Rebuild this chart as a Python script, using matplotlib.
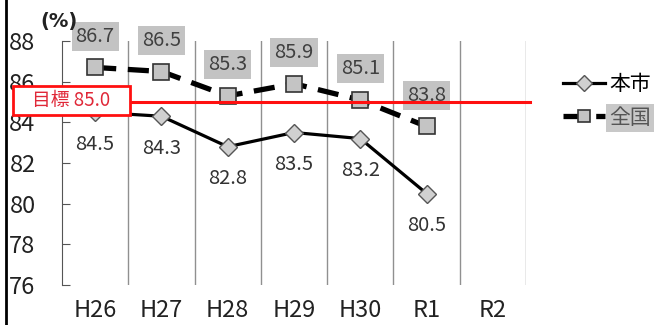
import matplotlib
matplotlib.use("Agg")
import matplotlib.pyplot as plt
from matplotlib.patches import Rectangle
from matplotlib.lines import Line2D

plt.rcParams['font.family'] = ['Noto Sans CJK JP', 'DejaVu Sans']

categories = ["H26", "H27", "H28", "H29", "H30", "R1", "R2"]
city = [84.5, 84.3, 82.8, 83.5, 83.2, 80.5]
national = [86.7, 86.5, 85.3, 85.9, 85.1, 83.8]
target = 85.0
yticks = [76, 78, 80, 82, 84, 86, 88]

fig = plt.figure(figsize=(6.58, 3.25), dpi=100)
ax = fig.add_axes([62/658, 1-285/325, (526-62)/658, (285-41)/325])

x = list(range(len(categories)))
ax.set_xlim(-0.5, len(categories)-0.5)
ax.set_ylim(76, 88)

# national (dashed, squares)
ax.plot(x[:len(national)], national, color='black', lw=3.8, ls=(0, (4, 2.2)),
        marker='s', ms=11, mfc='#c4c4c4', mec='#333333', mew=1.2, zorder=3,
        label='全国')
# city (solid, diamonds)
ax.plot(x[:len(city)], city, color='black', lw=2.3, ls='-',
        marker='D', ms=9, mfc='#d0d0d0', mec='#555555', mew=1.0, zorder=3,
        label='本市')

for xi, v in zip(x, national):
    ax.annotate(f"{v:.1f}", (xi, v), xytext=(0, 22.5), textcoords='offset points',
                ha='center', va='center', fontsize=14.5, color='#404040', zorder=3.5,
                bbox=dict(boxstyle='square,pad=0.2', fc='#c3c3c3', ec='none'))
for xi, v in zip(x, city):
    ax.annotate(f"{v:.1f}", (xi, v), xytext=(0, -23), textcoords='offset points',
                ha='center', va='center', fontsize=14.5, color='#333333', zorder=3.5)

# target line
ax.plot([-0.5, 6.56], [target, target], color='#ff1010', lw=2.2, zorder=6,
        clip_on=False)

# vertical category separators
ax.set_xticks([i + 0.5 for i in x[:-1]] + [len(categories) - 0.5], minor=True)
ax.grid(True, which='minor', axis='x', color='#909090', lw=1.0)
ax.grid(False, which='major')
ax.tick_params(axis='x', which='both', length=0)
ax.set_xticks(x)
ax.set_xticklabels(categories, fontsize=17, color='#222222')
ax.tick_params(axis='x', which='major', pad=10)

ax.set_yticks(yticks)
ax.set_yticklabels([str(t) for t in yticks], fontsize=17, color='#222222')
ax.tick_params(axis='y', direction='in', length=6, color='#555555', pad=19)

for s in ['top', 'right', 'bottom']:
    ax.spines[s].set_visible(False)
ax.spines['left'].set_color('#555555')

# (%) unit
fig.text(59/658, 1-21/325, "(%)", fontsize=14, fontweight='bold',
         family='DejaVu Sans', ha='center', va='center', color='#222222')

# target box
fig.add_artist(Rectangle((13/658, 1-115/325), 117/658, 29/325,
                         transform=fig.transFigure, fc='white', ec='#ff1010',
                         lw=2, zorder=10))
fig.text(71/658, 1-100.5/325, f"目標 {target:.1f}", fontsize=13.5, color='#e02838',
         ha='center', va='center', zorder=11)

# legend
h, l = ax.get_legend_handles_labels()
leg = fig.legend(h[::-1], l[::-1], loc='center left',
                 bbox_to_anchor=(555/658, 1-101/325), frameon=False,
                 fontsize=15, handlelength=2.0, labelspacing=0.55,
                 handletextpad=0.2, borderaxespad=0, markerscale=0.85)
leg.get_texts()[1].set_bbox(dict(boxstyle='square,pad=0.15', fc='#c8c8c8', ec='none'))
leg.get_texts()[1].set_color('#555555')

# left border
fig.add_artist(Line2D([6/658, 6/658], [0, 1], transform=fig.transFigure,
                      color='black', lw=2))

fig.savefig("out.png", dpi=100)
